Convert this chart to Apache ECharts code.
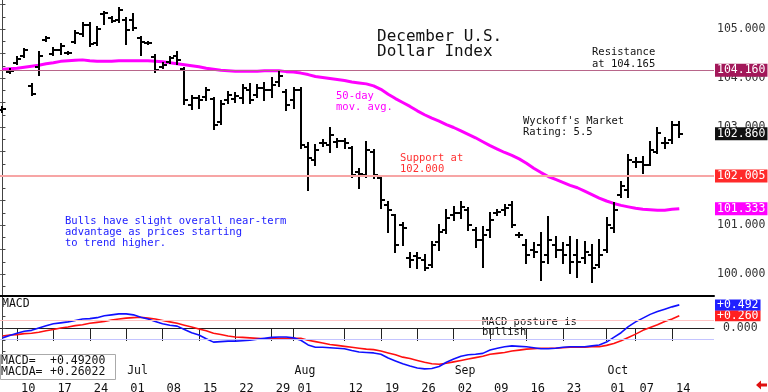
<!DOCTYPE html>
<html><head><meta charset="utf-8">
<script src="https://cdn.jsdelivr.net/npm/echarts@6/dist/echarts.min.js"></script>
<style>html,body{margin:0;padding:0;background:#fff}#c{width:768px;height:392px}</style>
</head><body><div id="c"></div>
<script>
// ---------- data ----------
const startDate = '2024-06-06';
const endDate = '2024-10-15';
function weekdays(a, b) {
  const out = [];
  const d = new Date(a + 'T00:00:00Z'), e = new Date(b + 'T00:00:00Z');
  while (d <= e) {
    const w = d.getUTCDay();
    if (w !== 0 && w !== 6) out.push(d.toISOString().slice(0, 10));
    d.setUTCDate(d.getUTCDate() + 1);
  }
  return out;
}
const dates = weekdays(startDate, endDate);

const opens = [
  103.35,104.12,104.31,104.45,103.84,104.22,104.78,104.49,104.57,104.51,
  104.73,104.90,105.08,104.71,105.31,105.22,105.18,105.18,105.18,104.82,
  104.71,104.43,104.22,104.33,104.45,104.18,103.45,103.59,103.61,103.57,
  103.10,103.55,103.57,103.59,103.76,103.65,103.80,103.76,103.92,103.71,
  103.55,103.76,102.59,102.33,102.67,102.63,102.69,102.71,102.57,102.08,
  102.02,102.49,101.96,101.41,101.20,101.00,100.33,100.37,100.29,100.18,
  100.65,100.90,101.20,101.25,101.31,100.90,100.69,100.90,101.25,101.31,
  101.41,100.80,100.59,100.49,100.59,100.39,100.59,100.49,100.59,100.39,
  100.33,100.39,100.18,100.49,100.94,101.61,101.71,102.29,102.29,102.22,
  102.49,102.67,102.73,103.04];
const highs = [
  103.41,104.18,104.43,104.59,103.88,104.53,104.84,104.61,104.69,104.53,
  104.96,105.12,105.12,105.04,105.35,105.25,105.43,105.22,105.31,104.84,
  104.73,104.47,104.31,104.43,104.53,104.20,103.63,103.63,103.80,103.59,
  103.53,103.71,103.69,103.86,103.88,103.86,103.90,104.00,104.12,103.76,
  103.80,103.80,102.67,102.63,102.73,102.98,102.76,102.76,102.59,102.14,
  102.69,102.53,101.98,101.47,101.20,101.04,100.43,100.43,100.39,100.65,
  101.00,101.31,101.37,101.47,101.35,100.94,100.96,101.25,101.31,101.41,
  101.47,100.84,100.69,100.63,100.84,101.16,100.76,100.63,100.76,100.69,
  100.65,100.59,100.69,101.14,101.45,101.88,102.43,102.37,102.39,102.69,
  102.98,102.78,103.10,103.10];
const lows = [
  103.31,104.10,104.29,104.43,103.65,104.06,104.76,104.47,104.49,104.49,
  104.71,104.86,104.65,104.67,105.10,105.14,105.14,104.69,104.98,104.47,
  104.69,104.12,104.20,104.31,104.29,103.47,103.37,103.39,103.55,102.96,
  103.06,103.49,103.51,103.49,103.49,103.61,103.55,103.61,103.84,103.35,
  103.39,102.57,101.71,102.22,102.61,102.49,102.59,102.57,101.98,101.76,
  101.98,101.96,101.35,100.86,100.45,100.59,100.14,100.12,100.08,100.14,
  100.49,100.84,101.10,101.14,100.90,100.55,100.14,100.76,101.20,101.20,
  100.96,100.76,100.23,100.35,99.88,100.23,100.35,100.23,100.02,99.94,
  100.23,99.84,100.14,100.45,100.86,101.57,101.57,102.18,102.06,102.22,
  102.47,102.57,102.67,102.80];
const closes = [
  103.37,104.14,104.39,104.57,103.67,104.45,104.82,104.57,104.65,104.51,
  104.92,105.08,104.69,105.00,105.33,105.16,105.39,104.98,105.02,104.73,
  104.71,104.16,104.27,104.41,104.37,103.55,103.59,103.55,103.76,103.04,
  103.47,103.65,103.63,103.80,103.55,103.80,103.76,103.86,104.04,103.45,
  103.76,102.63,102.37,102.53,102.67,102.84,102.71,102.67,102.02,102.04,
  102.53,102.02,101.51,101.31,100.59,100.94,100.29,100.33,100.12,100.59,
  100.86,101.14,101.25,101.37,101.00,100.69,100.80,101.10,101.27,101.35,
  101.00,100.80,100.39,100.45,100.25,100.69,100.49,100.39,100.25,100.25,
  100.45,100.12,100.39,101.00,101.31,101.80,102.33,102.29,102.22,102.53,
  102.88,102.67,103.04,102.86];
const ma50 = [
  104.18,104.19,104.20,104.22,104.24,104.26,104.29,104.31,104.34,104.35,
  104.36,104.37,104.35,104.34,104.34,104.34,104.35,104.35,104.35,104.35,
  104.35,104.34,104.33,104.31,104.29,104.27,104.25,104.23,104.20,104.18,
  104.16,104.15,104.14,104.14,104.14,104.14,104.15,104.15,104.15,104.13,
  104.12,104.10,104.07,104.03,104.01,103.99,103.97,103.95,103.92,103.90,
  103.88,103.84,103.77,103.67,103.58,103.50,103.42,103.33,103.25,103.18,
  103.12,103.05,102.99,102.92,102.85,102.78,102.70,102.62,102.55,102.48,
  102.42,102.35,102.26,102.16,102.07,101.99,101.93,101.87,101.81,101.76,
  101.69,101.62,101.55,101.49,101.44,101.40,101.37,101.34,101.32,101.31,
  101.30,101.30,101.32,101.333];
const macd = [
  -0.21,-0.16,-0.11,-0.07,-0.05,0.00,0.05,0.09,0.11,0.13,
  0.16,0.19,0.20,0.22,0.26,0.28,0.30,0.30,0.28,0.23,
  0.19,0.14,0.09,0.06,0.04,-0.03,-0.10,-0.15,-0.23,-0.30,
  -0.29,-0.28,-0.28,-0.27,-0.26,-0.24,-0.22,-0.20,-0.19,-0.19,
  -0.21,-0.26,-0.36,-0.41,-0.41,-0.42,-0.43,-0.44,-0.48,-0.51,
  -0.52,-0.53,-0.56,-0.64,-0.70,-0.76,-0.81,-0.85,-0.87,-0.86,
  -0.82,-0.73,-0.66,-0.60,-0.57,-0.56,-0.54,-0.47,-0.43,-0.40,
  -0.38,-0.39,-0.40,-0.42,-0.44,-0.44,-0.43,-0.41,-0.40,-0.40,
  -0.40,-0.38,-0.36,-0.30,-0.20,-0.10,0.03,0.13,0.21,0.29,
  0.35,0.40,0.45,0.492];
const macda = [
  -0.17,-0.15,-0.14,-0.12,-0.11,-0.09,-0.06,-0.03,0.00,0.02,
  0.05,0.07,0.10,0.12,0.14,0.17,0.19,0.21,0.22,0.23,
  0.21,0.19,0.16,0.13,0.10,0.06,0.02,-0.02,-0.06,-0.11,
  -0.14,-0.17,-0.19,-0.20,-0.21,-0.22,-0.23,-0.23,-0.22,-0.22,
  -0.22,-0.22,-0.26,-0.29,-0.32,-0.35,-0.37,-0.39,-0.41,-0.43,
  -0.45,-0.46,-0.49,-0.53,-0.57,-0.62,-0.65,-0.69,-0.73,-0.76,
  -0.77,-0.75,-0.72,-0.69,-0.66,-0.63,-0.60,-0.56,-0.54,-0.52,
  -0.49,-0.47,-0.45,-0.44,-0.43,-0.43,-0.43,-0.42,-0.41,-0.41,
  -0.41,-0.40,-0.40,-0.37,-0.33,-0.27,-0.20,-0.13,-0.05,0.01,
  0.07,0.14,0.19,0.26022];

const weekTicks = ['2024-06-10','2024-06-17','2024-06-24','2024-07-01','2024-07-08','2024-07-15',
  '2024-07-22','2024-07-29','2024-08-01','2024-08-12','2024-08-19','2024-08-26','2024-09-02',
  '2024-09-09','2024-09-16','2024-09-23','2024-10-01','2024-10-07','2024-10-14'];
const monthTicks = ['2024-07-01','2024-08-01','2024-09-02','2024-10-01'];
const monthNames = ['Jul','Aug','Sep','Oct'];
const priceLabels = [100, 101, 102, 103, 104, 105];
const resistance = 104.16;
const support = 102.005;
const macdGuides = [0.17, -0.23];

const titleText = 'December U.S.\nDollar Index';
const resistanceText = 'Resistance\nat 104.165';
const maText = '50-day\nmov. avg.';
const supportText = 'Support at\n102.000';
const ratingText = "Wyckoff's Market\nRating: 5.5";
const bullsText = 'Bulls have slight overall near-term\nadvantage as prices starting\nto trend higher.';
const postureText = 'MACD posture is\nbullish';

// ---------- build ----------
const MONO = '"DejaVu Sans Mono", "Liberation Mono", monospace';
const last = dates.length - 1;
const idx = d => dates.indexOf(d);
const ohlc = dates.map((d, i) => [i, opens[i], highs[i], lows[i], closes[i]]);
const maData = ma50.map((v, i) => [i, v]);
const macdData = macd.map((v, i) => [i, v]);
const macdaData = macda.map((v, i) => [i, v]);
const weekIdx = weekTicks.map(idx);
const monthIdx = monthTicks.map(idx);
const XMIN = -0.336, XMAX = 97.77;
const HIDDEN = { color: 'rgba(0,0,0,0)', width: 1, type: 'solid' };

function steps(a, b, s) { const r = []; for (let v = a; v <= b + 1e-9; v += s) r.push(+v.toFixed(4)); return r; }

function renderOHLC(params, api) {
  const k = api.value(0);
  const o = api.coord([k, api.value(1)]);
  const h = api.coord([k, api.value(2)]);
  const l = api.coord([k, api.value(3)]);
  const c = api.coord([k, api.value(4)]);
  const x = Math.round(h[0]);
  const st = { stroke: '#000', lineWidth: 2 };
  return {
    type: 'group',
    children: [
      { type: 'line', shape: { x1: x, y1: Math.round(h[1]) - 1, x2: x, y2: Math.round(l[1]) + 1 }, style: st },
      { type: 'line', shape: { x1: x - 4, y1: Math.round(o[1]), x2: x, y2: Math.round(o[1]) }, style: st },
      { type: 'line', shape: { x1: x, y1: Math.round(c[1]), x2: x + 4, y2: Math.round(c[1]) }, style: st }
    ]
  };
}

const boxLabel = (text, bg, small) => ({
  show: true, position: 'end', formatter: text, backgroundColor: bg, color: '#fff',
  fontFamily: MONO, fontSize: 11.5, lineHeight: small ? 11 : 12,
  padding: small ? [0, 2, 0, 2] : [1, 2, 0, 2], distance: 1
});

const chart = echarts.init(document.getElementById('c'), null, { renderer: 'canvas' });
const option = {
  animation: false,
  backgroundColor: '#fff',
  grid: [
    { left: 0, right: 54, top: 0, height: 296, containLabel: false, outerBoundsMode: 'none' },
    { left: 0, right: 54, top: 296, height: 83, containLabel: false, outerBoundsMode: 'none' }
  ],
  xAxis: [
    { type: 'value', gridIndex: 0, min: XMIN, max: XMAX, position: 'bottom',
      axisLine: { show: true, lineStyle: { color: '#000', width: 2 } },
      axisTick: { show: false }, axisLabel: { show: false }, splitLine: { show: false } },
    { type: 'value', gridIndex: 1, min: XMIN, max: XMAX, position: 'bottom',
      axisLine: { show: true, lineStyle: { color: '#222', width: 1 } },
      axisTick: { show: true, customValues: weekIdx, length: 13, lineStyle: { color: '#222' } },
      axisLabel: { show: true, customValues: weekIdx, formatter: v => dates[Math.round(v)].slice(8, 10),
        align: 'left', verticalAlign: 'top', margin: 4, padding: [0, 0, 0, 4],
        fontFamily: MONO, fontSize: 12, color: '#111' },
      splitLine: { show: false } },
    { type: 'value', gridIndex: 1, min: XMIN, max: XMAX, position: 'bottom', offset: 0,
      axisLine: { show: false }, axisTick: { show: false },
      axisLabel: { show: true, inside: true, customValues: monthIdx,
        formatter: v => monthNames[monthIdx.indexOf(Math.round(v))],
        align: 'left', verticalAlign: 'bottom', margin: 2, padding: [0, 0, 0, 1],
        fontFamily: MONO, fontSize: 11.5, color: '#111' },
      splitLine: { show: false } }
  ],
  yAxis: [
    { type: 'value', gridIndex: 0, position: 'right', min: 99.551, max: 105.592,
      axisLine: { show: true, lineStyle: { color: '#444', width: 1 } },
      axisTick: { show: true, customValues: steps(99.75, 105.5, 0.25), length: 3, lineStyle: { color: '#444' } },
      axisLabel: { show: true, customValues: priceLabels, formatter: v => v.toFixed(3), margin: 3,
        fontFamily: MONO, fontSize: 11.5, color: '#333' },
      splitLine: { show: false } },
    { type: 'value', gridIndex: 1, position: 'right', min: -1.085, max: 0.681,
      axisLine: { show: true, lineStyle: { color: '#444', width: 1 } },
      axisTick: { show: true, customValues: steps(-1, 0.5, 0.25), length: 3, lineStyle: { color: '#444' } },
      axisLabel: { show: true, customValues: [0], formatter: v => v.toFixed(3), margin: 9,
        fontFamily: MONO, fontSize: 11.5, color: '#333' },
      splitLine: { show: false } },
    { type: 'value', gridIndex: 0, position: 'left', min: 99.551, max: 105.592,
      axisLine: { show: false },
      axisTick: { show: true, inside: true, customValues: steps(100, 105.5, 0.5), length: 2, lineStyle: { color: '#666' } },
      axisLabel: { show: false }, splitLine: { show: false } }
  ],
  series: [
    { type: 'line', name: 'ma50', xAxisIndex: 0, yAxisIndex: 0, data: maData, showSymbol: false, clip: false,
      lineStyle: { color: '#ff00ff', width: 3 }, z: 3,
      markLine: { silent: true, symbol: 'none', animation: false,
        data: [
          { yAxis: resistance, lineStyle: { color: '#b8668a', width: 1, type: 'solid' }, label: boxLabel(resistance.toFixed(3), '#a3185a') },
          { yAxis: support, lineStyle: { color: '#f7a5a5', width: 2, type: 'solid' }, label: boxLabel(support.toFixed(3), '#ff2a2a') },
          { yAxis: ma50[last], lineStyle: HIDDEN, label: boxLabel(ma50[last].toFixed(3), '#ff00ff') },
          { yAxis: closes[last], lineStyle: HIDDEN, label: boxLabel(closes[last].toFixed(3), '#111') }
        ] } },
    { type: 'custom', name: 'ohlc', xAxisIndex: 0, yAxisIndex: 0, data: ohlc, renderItem: renderOHLC,
      encode: { x: 0, y: [1, 2, 3, 4] }, z: 4, clip: true },
    { type: 'line', name: 'macda', xAxisIndex: 1, yAxisIndex: 1, data: macdaData, showSymbol: false, clip: false,
      lineStyle: { color: '#ff1010', width: 1.6 }, z: 3,
      markLine: { silent: true, symbol: 'none', animation: false,
        data: [
          { yAxis: macdGuides[0], lineStyle: { color: '#ffc4c4', width: 1, type: 'solid' }, label: { show: false } },
          { yAxis: macdGuides[1], lineStyle: { color: '#c4c4ff', width: 1, type: 'solid' }, label: { show: false } },
          { yAxis: macda[last], lineStyle: HIDDEN, label: boxLabel('+' + macda[last].toFixed(3), '#ff2020', true) }
        ] } },
    { type: 'line', name: 'macd', xAxisIndex: 1, yAxisIndex: 1, data: macdData, showSymbol: false, clip: false,
      lineStyle: { color: '#1010ff', width: 1.6 }, z: 4,
      markLine: { silent: true, symbol: 'none', animation: false,
        data: [
          { yAxis: macd[last], lineStyle: HIDDEN, label: boxLabel('+' + macd[last].toFixed(3), '#2020ff', true) }
        ] } }
  ],
  graphic: [
    { type: 'text', x: 377, y: 29, style: { text: titleText, font: '16px ' + MONO, fill: '#111', lineHeight: 15, verticalAlign: 'top' } },
    { type: 'text', x: 592, y: 46, style: { text: resistanceText, font: '10.5px ' + MONO, fill: '#111', lineHeight: 12, verticalAlign: 'top' } },
    { type: 'text', x: 336, y: 91, style: { text: maText, font: '10.5px ' + MONO, fill: '#ff00ff', lineHeight: 11, verticalAlign: 'top' } },
    { type: 'text', x: 400, y: 153, style: { text: supportText, font: '10.5px ' + MONO, fill: '#ff3030', lineHeight: 11, verticalAlign: 'top' } },
    { type: 'text', x: 523, y: 116, style: { text: ratingText, font: '10.5px ' + MONO, fill: '#111', lineHeight: 11, verticalAlign: 'top' } },
    { type: 'text', x: 65, y: 216, style: { text: bullsText, font: '10.5px ' + MONO, fill: '#2020ff', lineHeight: 11, verticalAlign: 'top' } },
    { type: 'text', x: 482, y: 317, style: { text: postureText, font: '10.5px ' + MONO, fill: '#111', lineHeight: 10.5, verticalAlign: 'top' } },
    { type: 'text', x: 2, y: 298, style: { text: 'MACD', font: '11.5px ' + MONO, fill: '#111', verticalAlign: 'top' } },
    { type: 'rect', shape: { x: 0.5, y: 354.5, width: 115, height: 25 }, style: { fill: '#fff', stroke: '#aaa', lineWidth: 1 }, z: 10 },
    { type: 'text', x: 1, y: 355, z: 11, style: { text: 'MACD=\nMACDA=', font: '11.5px ' + MONO, fill: '#111', lineHeight: 11.5, verticalAlign: 'top' } },
    { type: 'text', x: 50, y: 355, z: 11, style: { text: '+' + macd[last].toFixed(5) + '\n+' + macda[last].toFixed(5), font: '11.5px ' + MONO, fill: '#111', lineHeight: 11.5, verticalAlign: 'top' } },
    { type: 'polygon', shape: { points: [[756, 385], [761, 380.5], [761, 383.5], [767, 383.5], [767, 386.5], [761, 386.5], [761, 389.5]] }, style: { fill: '#e01010' } }
  ]
};
chart.setOption(option);
</script>
</body></html>
